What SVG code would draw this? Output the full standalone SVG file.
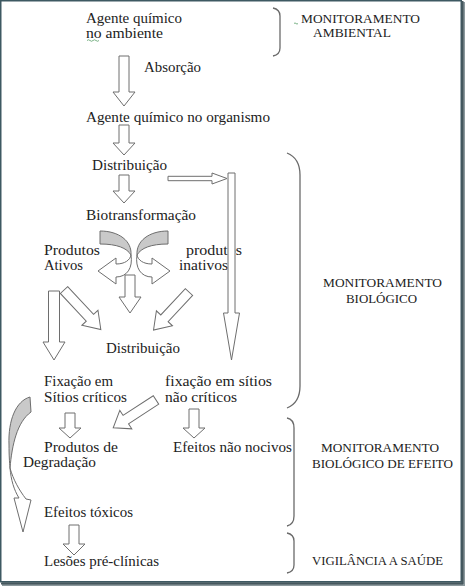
<svg xmlns="http://www.w3.org/2000/svg" width="465" height="586" viewBox="0 0 465 586">
<style>
.t{font-family:"Liberation Serif","Times New Roman",serif;font-size:14.5px;fill:#222}
.r{font-family:"Liberation Serif","Times New Roman",serif;font-size:13.5px;fill:#222}
.a{fill:#fff;stroke:#6e6e6e;stroke-width:1;stroke-linejoin:miter}
.g{fill:#c9c9c9;stroke:#6e6e6e;stroke-width:1}
.b{fill:none;stroke:#6a6a6a;stroke-width:1.3}
.sq{fill:none;stroke:#5aa06a;stroke-width:0.8}
</style>
<rect x="0" y="0" width="465" height="586" fill="#fff"/>
<rect x="461" y="2" width="4" height="584" fill="#8c999d"/>
<rect x="2" y="582" width="463" height="4" fill="#8c999d"/>
<rect x="0.75" y="0.75" width="460.5" height="581" fill="none" stroke="#3e5962" stroke-width="1.5"/>
<rect x="461.5" y="1" width="2" height="583" fill="#46585e"/>
<rect x="1" y="582.5" width="462" height="2" fill="#46585e"/>

<g id="connectors">
  <path class="a" d="M119,56 H129 V92 H135 L124,106 L113,92 H119 Z"/>
  <path class="a" d="M119,125 H129 V143 H135 L124,155 L113,143 H119 Z"/>
  <path class="a" d="M119,175 H129 V191 H135 L124,203 L113,191 H119 Z"/>
  <path class="a" d="M168,176.3 H212 V173 L227,178.5 L212,184 V180.7 H168 Z"/>
  <path class="a" d="M125,275 H135 V297 H141 L130,313 L119,297 H125 Z"/>
  <path class="a" d="M48.5,291 H59.5 V342 H65 L54,360 L43,342 H48.5 Z"/>
  <path class="a" d="M0,-5 H38 V-11 L54,0 L38,11 V5 H0 Z" transform="translate(64,290) rotate(47)"/>
  <path class="a" d="M0,-5 H36 V-11 L52,0 L36,11 V5 H0 Z" transform="translate(189,292) rotate(133)"/>
  <path class="a" d="M65,413 H75 V428 H81 L70,438 L59,428 H65 Z"/>
  <path class="a" d="M189,409 H199 V428 H205 L194,438 L183,428 H189 Z"/>
  <path class="a" d="M0,-5 H36 V-11 L51,0 L36,11 V5 H0 Z" transform="translate(156,400) rotate(147)"/>
  <path class="a" d="M69,525 H79 V544 H85 L74,555 L63,544 H69 Z"/>
  <g id="curved-left">
    <path class="g" d="M100,231 C119,231 132,241 131,255 C127,248 117,244 100,244 Z"/>
    <path class="a" d="M131,255 C130,260 125,264 116,264 L116,258 L98,271 L116,284 L116,277 C127,277 133,268 131,255 Z"/>
  </g>
  <g id="curved-right" transform="translate(268,0) scale(-1,1)">
    <path class="g" d="M100,231 C119,231 132,241 131,255 C127,248 117,244 100,244 Z"/>
    <path class="a" d="M131,255 C130,260 125,264 116,264 L116,258 L98,271 L116,284 L116,277 C127,277 133,268 131,255 Z"/>
  </g>
  <g id="curved-big">
    <path class="g" d="M30,397 C16,401 8,420 9,445 C9,455 9.5,462 10,468 C12,445 17,422 31,412 Z"/>
    <path class="a" d="M10,468 C11,480 14,490 19,498 L14,498 L23,532 L31,500 L26,499 C19,490 13,479 10,468 Z"/>
  </g>
</g>

<g id="n-agente-ambiente"><text class="t" x="86" y="23" textLength="96" lengthAdjust="spacingAndGlyphs">Agente químico</text><text class="t" x="86" y="37.5" textLength="77" lengthAdjust="spacingAndGlyphs">no ambiente</text><path class="sq" d="M87,40.5 q1.5,-1.5 3,0 t3,0 t3,0 t3,0"/></g>
<g id="n-absorcao"><text class="t" x="144" y="72" textLength="57" lengthAdjust="spacingAndGlyphs">Absorção</text></g>
<g id="n-agente-organismo"><text class="t" x="86" y="122" textLength="184" lengthAdjust="spacingAndGlyphs">Agente químico no organismo</text></g>
<g id="n-distribuicao1"><text class="t" x="92" y="170" textLength="75" lengthAdjust="spacingAndGlyphs">Distribuição</text></g>
<g id="n-biotransformacao"><text class="t" x="86" y="220" textLength="110" lengthAdjust="spacingAndGlyphs">Biotransformação</text></g>
<g id="n-produtos-ativos"><text class="t" x="44" y="254.5" textLength="56" lengthAdjust="spacingAndGlyphs">Produtos</text><text class="t" x="44" y="269.5" textLength="39" lengthAdjust="spacingAndGlyphs">Ativos</text></g>
<g id="n-produtos-inativos"><text class="t" x="186" y="254.5" textLength="56" lengthAdjust="spacingAndGlyphs">produtos</text><text class="t" x="179" y="269.5" textLength="49" lengthAdjust="spacingAndGlyphs">inativos</text></g>
<g id="long-arrow"><path class="a" d="M228,173 H235 V313 H239.5 L231.5,360 L223.5,313 H228 Z"/></g>
<g id="n-distribuicao2"><text class="t" x="106" y="352.5" textLength="74" lengthAdjust="spacingAndGlyphs">Distribuição</text></g>
<g id="n-fixacao-criticos"><text class="t" x="44" y="386" textLength="69" lengthAdjust="spacingAndGlyphs">Fixação em</text><text class="t" x="44" y="401.5" textLength="83" lengthAdjust="spacingAndGlyphs">Sítios críticos</text></g>
<g id="n-fixacao-nao-criticos"><text class="t" x="165" y="386" textLength="107" lengthAdjust="spacingAndGlyphs">fixação em sítios</text><text class="t" x="165" y="401.5" textLength="72" lengthAdjust="spacingAndGlyphs">não críticos</text></g>
<g id="n-degradacao"><text class="t" x="44" y="452" textLength="74" lengthAdjust="spacingAndGlyphs">Produtos de</text><text class="t" x="23" y="467" textLength="73" lengthAdjust="spacingAndGlyphs">Degradação</text></g>
<g id="n-efeitos-nao-nocivos"><text class="t" x="173" y="452" textLength="119" lengthAdjust="spacingAndGlyphs">Efeitos não nocivos</text></g>
<g id="n-efeitos-toxicos"><text class="t" x="44" y="517" textLength="89" lengthAdjust="spacingAndGlyphs">Efeitos tóxicos</text></g>
<g id="n-lesoes"><text class="t" x="44" y="566" textLength="115" lengthAdjust="spacingAndGlyphs">Lesões pré-clínicas</text></g>

<g id="brackets">
  <path class="b" d="M273,8 C278,9 280,12 280,16 V48 C280,52 278,55 273,56"/>
  <path class="b" d="M287,153 C297,157 300,165 300,175 V386 C300,396 297,404 287,408"/>
  <path class="b" d="M287,418 C292,419 294,423 294,428 V516 C294,521 292,525 287,526"/>
  <path class="b" d="M287,533 C292,534 294,537 294,541 V565 C294,569 292,572 287,573"/>
</g>
<g id="l-ambiental"><path class="sq" d="M294,23.5 q1,-1.2 2,0 t2,0"/><text class="r" x="301" y="23" textLength="119" lengthAdjust="spacingAndGlyphs">MONITORAMENTO</text><text class="r" x="313" y="37" textLength="78" lengthAdjust="spacingAndGlyphs">AMBIENTAL</text></g>
<g id="l-biologico"><text class="r" x="323" y="287" textLength="119" lengthAdjust="spacingAndGlyphs">MONITORAMENTO</text><text class="r" x="346" y="303" textLength="71" lengthAdjust="spacingAndGlyphs">BIOLÓGICO</text></g>
<g id="l-efeito"><text class="r" x="321" y="452" textLength="118" lengthAdjust="spacingAndGlyphs">MONITORAMENTO</text><text class="r" x="312" y="468" textLength="141" lengthAdjust="spacingAndGlyphs">BIOLÓGICO DE EFEITO</text></g>
<g id="l-vigilancia"><text class="r" x="312" y="565" textLength="131" lengthAdjust="spacingAndGlyphs">VIGILÂNCIA A SAÚDE</text></g>
</svg>
